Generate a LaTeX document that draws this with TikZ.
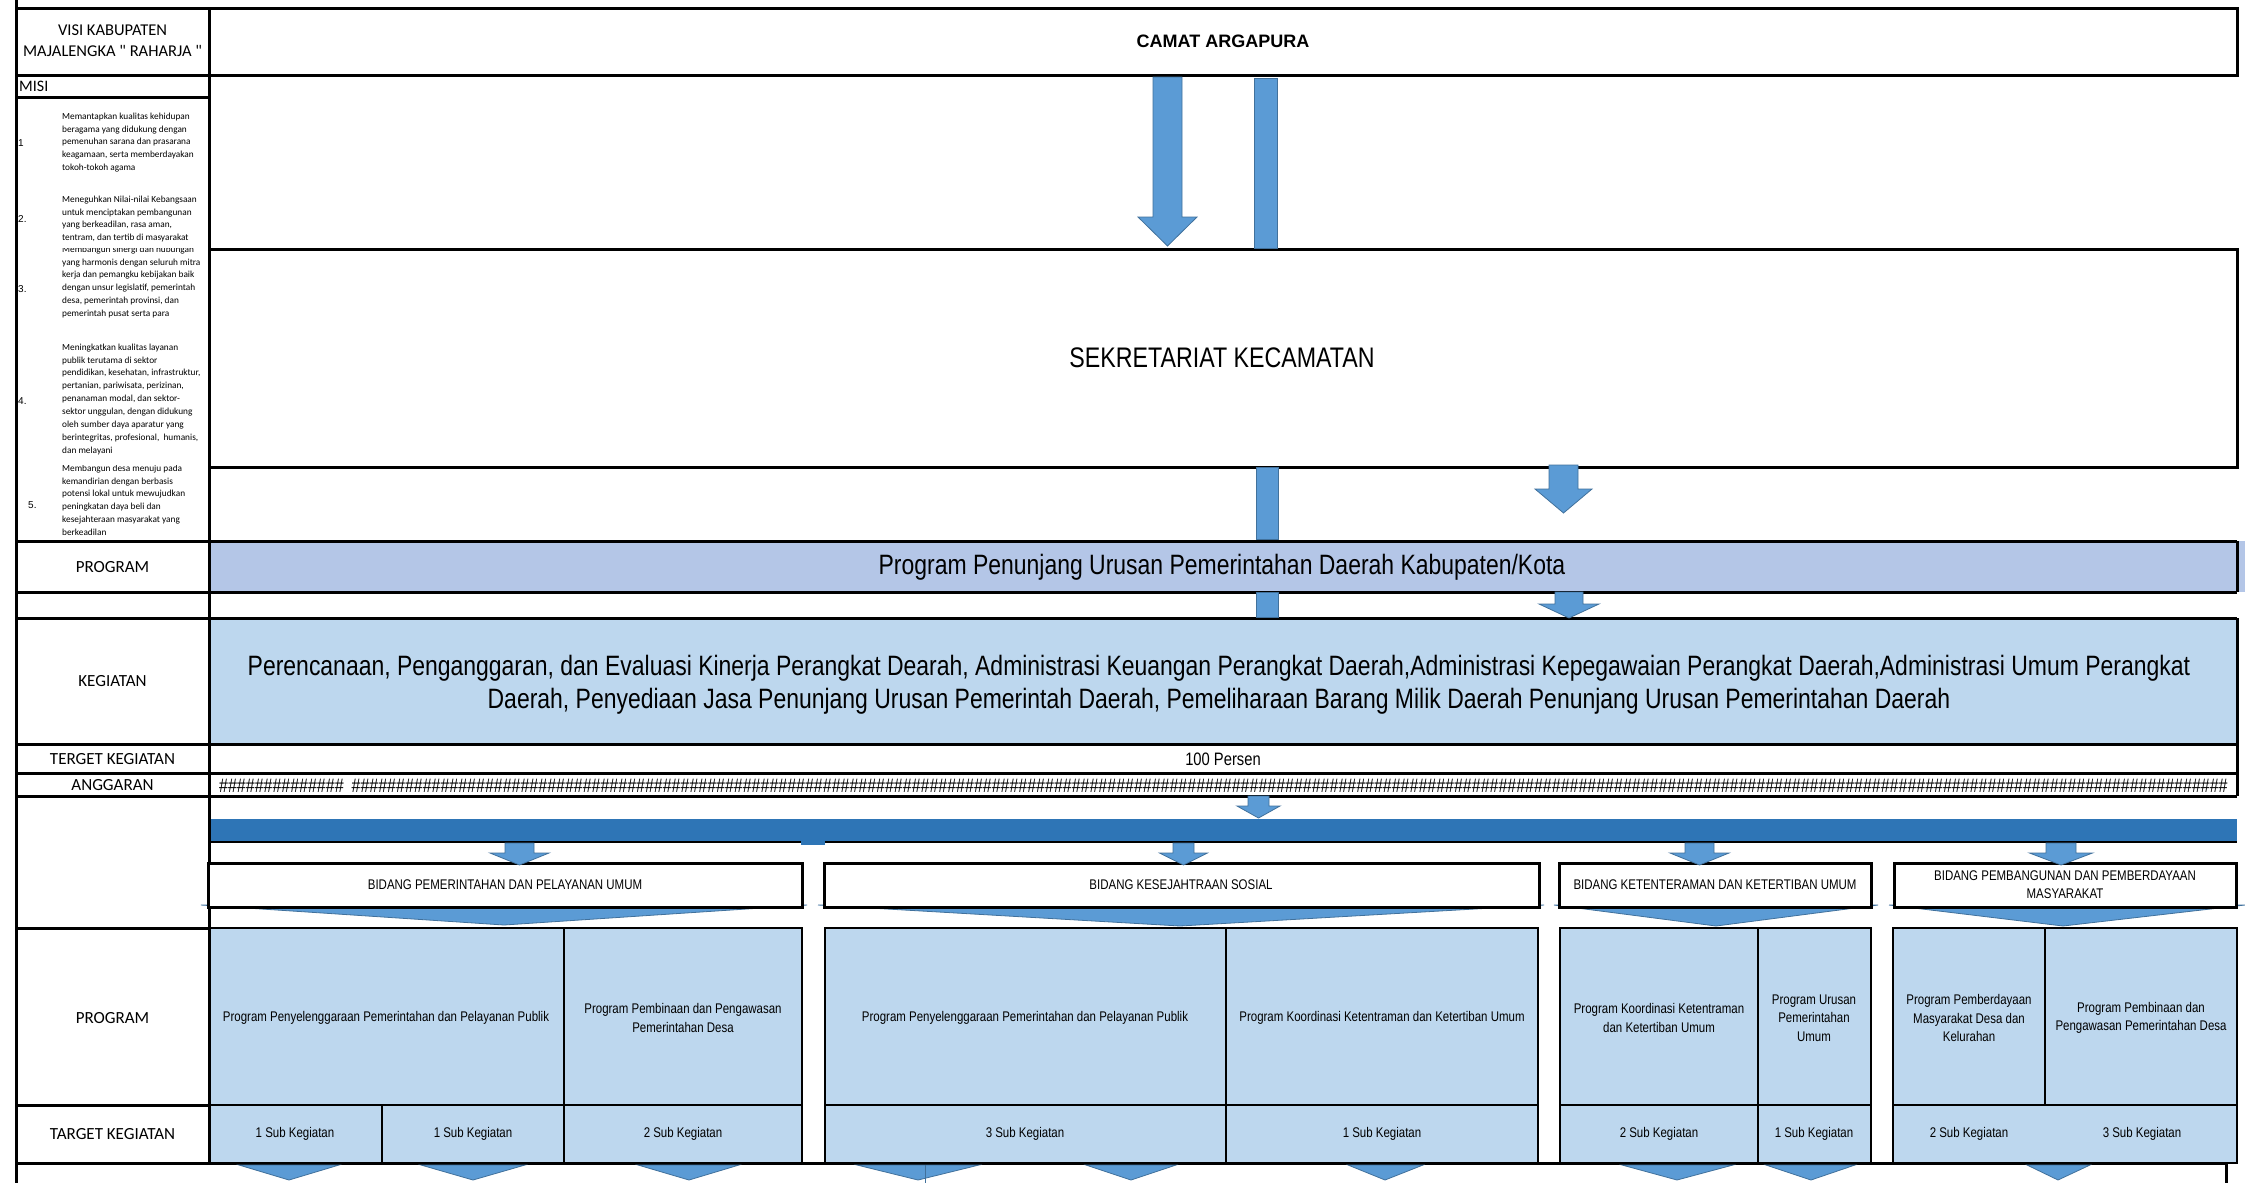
\documentclass[tikz,border=0pt]{standalone}
\usepackage{fontspec}
\setmainfont{Liberation Sans}
\newfontfamily\narrowf[FakeStretch=0.82]{Liberation Sans}
\newfontfamily\calib{Carlito}
\definecolor{arrowblue}{HTML}{5B9BD5}
\definecolor{arrowedge}{HTML}{41719C}
\definecolor{barblue}{HTML}{2E75B6}
\definecolor{progfill}{HTML}{B4C6E7}
\definecolor{cellfill}{HTML}{BDD7EE}
\newcommand\fs[2]{\fontsize{#1}{#2}\selectfont}
\newcommand\hashten{\#\#\#\#\#\#\#\#\#\#}
\newcommand\hashseventy{\hashten\hashten\hashten\hashten\hashten\hashten\hashten}
% block down arrow: cx, top, shaft half width, head half width, head start, tip
\newcommand\blockarrow[6]{%
  \path[blkarrow] ({#1-#3},#2) -- ({#1+#3},#2) -- ({#1+#3},#5) -- ({#1+#4},#5)
    -- (#1,#6) -- ({#1-#4},#5) -- ({#1-#3},#5) -- cycle;}
% flat triangle: left, right, tip x, top y, tip y
\newcommand\flattri[5]{%
  \path[blkarrow] (#1,#4) -- (#2,#4) -- (#3,#5) -- cycle;}
\begin{document}
\begin{tikzpicture}[x=1pt,y=-1pt,
  frame/.style={draw=black, line width=3pt},
  cellline/.style={draw=black, line width=2.5pt},
  blkarrow/.style={fill=arrowblue, draw=arrowedge, line width=0.8pt},
  lbl/.style={font=\calib\fs{17}{21}, align=center, inner sep=0pt},
  misitxt/.style={font=\calib\fs{9.3}{12.9}, align=left, anchor=north west, inner sep=0pt},
  numtxt/.style={font=\fs{10}{12}, anchor=base west, inner sep=0pt},
  bigtxt/.style={font=\narrowf\fs{28}{33}, align=center, inner sep=0pt},
  bidtxt/.style={font=\narrowf\fs{14}{18}, align=center, inner sep=0pt},
  prgtxt/.style={font=\narrowf\fs{14}{18.6}, align=center, inner sep=0pt},
  subtxt/.style={font=\narrowf\fs{14}{16}, inner sep=0pt}]
\useasboundingbox (0,0) rectangle (2245,1183);
\fill[white] (0,0) rectangle (2245,1183);

% ---------- fills ----------
\fill[progfill] (209,541) rectangle (2245,592);
\fill[cellfill] (209,618) rectangle (2237,744);
\fill[barblue] (208,819) rectangle (2237,841);
\foreach \a/\b in {209/802, 825/1538, 1560/1871, 1893/2237}
  \fill[cellfill] (\a,928) rectangle (\b,1163);

% ---------- upper table ----------
\draw[frame] (16,0) -- (16,1183);
\draw[frame] (16,8) rectangle (209,75);
\draw[frame] (209,8) rectangle (2237,75);
\draw[frame] (16,75) rectangle (209,97);
\draw[frame] (16,97) rectangle (209,541);
\draw[frame] (209,249) rectangle (2237,467);
\foreach \yy in {541,592,618,744,773,796}
  \draw[frame] (16,\yy) -- (2237,\yy);
\draw[frame] (209,541) -- (209,796);
\draw[frame] (2237,541) -- (2237,592);
\draw[frame] (2237,618) -- (2237,796);

% ---------- lower left column ----------
\draw[frame] (16,796) rectangle (209,928);
\draw[frame] (16,928) rectangle (209,1105);
\draw[frame] (16,1105) rectangle (209,1163);
\draw[frame] (209,1163) -- (2226,1163);
\draw[frame] (2226,1163) -- (2226,1183);

% ---------- groups ----------
\draw[cellline] (209,928) rectangle (802,1163);
\draw[cellline] (209,1105) -- (802,1105);
\draw[cellline] (564,928) -- (564,1163);
\draw[cellline] (382,1105) -- (382,1163);
\draw[cellline] (825,928) rectangle (1538,1163);
\draw[cellline] (825,1105) -- (1538,1105);
\draw[cellline] (1226,928) -- (1226,1163);
\draw[cellline] (1560,928) rectangle (1871,1163);
\draw[cellline] (1560,1105) -- (1871,1105);
\draw[cellline] (1758,928) -- (1758,1163);
\draw[cellline] (1893,928) rectangle (2237,1163);
\draw[cellline] (1893,1105) -- (2237,1105);
\draw[cellline] (2045,928) -- (2045,1105);

% ---------- blue bar bottom edge ----------
\draw[line width=2.5pt] (208,842) -- (801,842);
\draw[line width=2.5pt] (825,842) -- (2237,842);
\fill[barblue] (801,841) rectangle (825,845);

% ---------- chevrons under bidang boxes ----------
\flattri{201}{807}{504}{905}{925}
\flattri{818}{1544}{1180}{905}{926}
\flattri{1554}{1878}{1716}{905}{926}
\flattri{1889}{2245}{2063}{905}{926}

% ---------- bidang boxes ----------
\draw[frame, fill=white] (208,863) rectangle (802,907);
\draw[frame, fill=white] (824,863) rectangle (1539,907);
\draw[frame, fill=white] (1559,863) rectangle (1871,907);
\draw[frame, fill=white] (1894,863) rectangle (2236,907);

% ---------- block arrows ----------
\blockarrow{1167.5}{77}{14.5}{29.5}{217}{246}
\path[blkarrow] (1254,78) rectangle (1277,248);
\path[blkarrow] (1256,467) rectangle (1278,539);
\blockarrow{1563.5}{465}{14.5}{28.5}{489}{513}
\path[blkarrow] (1256,592) rectangle (1278,617);
\blockarrow{1569}{592}{14}{30}{604}{618}
\blockarrow{1258.5}{796}{10.5}{21.5}{806}{818}
\blockarrow{519.5}{843}{14.5}{29.5}{853}{865}
\blockarrow{1183.5}{843}{10.5}{24}{853}{865}
\blockarrow{1699.5}{843}{14.5}{29.5}{853}{865}
\blockarrow{2061}{843}{15}{31.5}{853}{865}

% ---------- bottom triangles ----------
\flattri{239}{339}{289}{1165}{1180}
\flattri{421}{525}{473}{1165}{1180}
\flattri{638}{739}{689}{1165}{1180}
\flattri{857}{979}{918}{1165}{1180}
\flattri{1086}{1176}{1131}{1165}{1180}
\flattri{1348}{1423}{1385}{1165}{1180}
\flattri{1622}{1733}{1677}{1165}{1180}
\flattri{1766}{1855}{1811}{1165}{1180}
\flattri{2027}{2090}{2058}{1165}{1180}
\draw[arrowedge, line width=0.8pt] (925,1165) -- (925,1183);

% ---------- left column labels ----------
\node[lbl, font=\calib\fs{16.5}{21}] (visi) at (112.5,41) {VISI KABUPATEN\\MAJALENGKA " RAHARJA "};
\node[lbl, anchor=west, font=\calib\fs{16}{20}] (misi) at (19,86) {MISI};
\node[lbl] (lprog) at (112.5,567) {PROGRAM};
\node[lbl] (lkeg) at (112.5,681) {KEGIATAN};
\node[lbl] (ltarget) at (112.5,759) {TERGET KEGIATAN};
\node[lbl] (lang) at (112.5,785) {ANGGARAN};
\node[lbl] (lprog2) at (112.5,1018) {PROGRAM};
\node[lbl] (ltarget2) at (112.5,1134) {TARGET KEGIATAN};

% ---------- misi items ----------
\node[numtxt] (n1) at (18,146) {1};
\node[misitxt] (m1) at (62,112.5) {Memantapkan kualitas kehidupan\\beragama yang didukung dengan\\pemenuhan sarana dan prasarana\\keagamaan, serta memberdayakan\\tokoh-tokoh agama};
\node[numtxt] (n2) at (18,222) {2.};
\node[misitxt] (m2) at (62,195.5) {Meneguhkan Nilai-nilai Kebangsaan\\untuk menciptakan pembangunan\\yang berkeadilan, rasa aman,\\tentram, dan tertib di masyarakat};
\node[numtxt] (n3) at (18,292) {3.};
\begin{scope}
\clip (58,248.5) rectangle (207,335);
\node[misitxt] (m3) at (62,245.5) {Membangun sinergi dan hubungan\\yang harmonis dengan seluruh mitra\\kerja dan pemangku kebijakan baik\\dengan unsur legislatif, pemerintah\\desa, pemerintah provinsi, dan\\pemerintah pusat serta para};
\end{scope}
\node[numtxt] (n4) at (18,404) {4.};
\node[misitxt] (m4) at (62,343.5) {Meningkatkan kualitas layanan\\publik terutama di sektor\\pendidikan, kesehatan, infrastruktur,\\pertanian, pariwisata, perizinan,\\penanaman modal, dan sektor-\\sektor unggulan, dengan didukung\\oleh sumber daya aparatur yang\\berintegritas, profesional,\ \ humanis,\\dan melayani};
\node[numtxt] (n5) at (28,508) {5.};
\begin{scope}
\clip (58,465.5) rectangle (207,539);
\node[misitxt] (m5) at (62,464.5) {Membangun desa menuju pada\\kemandirian dengan berbasis\\potensi lokal untuk mewujudkan\\peningkatan daya beli dan\\kesejahteraan masyarakat yang\\berkeadilan};
\end{scope}

% ---------- main texts ----------
\node[font=\bfseries\fs{18}{22}, inner sep=0pt] (camat) at (1223,41.5) {CAMAT ARGAPURA};
\node[bigtxt, font=\narrowf\fs{28.3}{33}] (sekre) at (1222,358) {SEKRETARIAT KECAMATAN};
\node[bigtxt] (prog) at (1222,567) {Program Penunjang Urusan Pemerintahan Daerah Kabupaten/Kota};
\node[bigtxt] (keg) at (1219,684.5) {Perencanaan, Penganggaran, dan Evaluasi Kinerja Perangkat Dearah, Administrasi Keuangan Perangkat Daerah,Administrasi Kepegawaian Perangkat Daerah,Administrasi Umum Perangkat\\Daerah, Penyediaan Jasa Penunjang Urusan Pemerintah Daerah, Pemeliharaan Barang Milik Daerah Penunjang Urusan Pemerintahan Daerah};
\node[font=\narrowf\fs{18}{20}, inner sep=0pt] (target) at (1223,759) {100 Persen};
\node[font=\narrowf\fs{19.5}{20}, anchor=base west, inner sep=0pt] (hash) at (219,792)
  {\hashten\#\#\#\#\hspace{8pt}\hashseventy\hashseventy\hashseventy\#};

% ---------- bidang texts ----------
\node[bidtxt] (b1) at (505,885) {BIDANG PEMERINTAHAN DAN PELAYANAN UMUM};
\node[bidtxt] (b2) at (1181,885) {BIDANG KESEJAHTRAAN SOSIAL};
\node[bidtxt] (b3) at (1715,885) {BIDANG KETENTERAMAN DAN KETERTIBAN UMUM};
\node[bidtxt] (b4) at (2065,885) {BIDANG PEMBANGUNAN DAN PEMBERDAYAAN\\MASYARAKAT};

% ---------- program cells ----------
\node[prgtxt] (p1a) at (386,1018) {Program Penyelenggaraan Pemerintahan dan Pelayanan Publik};
\node[prgtxt] (p1b) at (683,1018) {Program Pembinaan dan Pengawasan\\Pemerintahan Desa};
\node[prgtxt] (p2a) at (1025,1018) {Program Penyelenggaraan Pemerintahan dan Pelayanan Publik};
\node[prgtxt] (p2b) at (1382,1018) {Program Koordinasi Ketentraman dan Ketertiban Umum};
\node[prgtxt] (p3a) at (1659,1018) {Program Koordinasi Ketentraman\\dan Ketertiban Umum};
\node[prgtxt] (p3b) at (1814,1018) {Program Urusan\\Pemerintahan\\Umum};
\node[prgtxt] (p4a) at (1969,1018) {Program Pemberdayaan\\Masyarakat Desa dan\\Kelurahan};
\node[prgtxt] (p4b) at (2141,1018) {Program Pembinaan dan\\Pengawasan Pemerintahan Desa};

% ---------- target cells ----------
\node[subtxt] (s1) at (295,1134) {1 Sub Kegiatan};
\node[subtxt] (s2) at (473,1134) {1 Sub Kegiatan};
\node[subtxt] (s3) at (683,1134) {2 Sub Kegiatan};
\node[subtxt] (s4) at (1025,1134) {3 Sub Kegiatan};
\node[subtxt] (s5) at (1382,1134) {1 Sub Kegiatan};
\node[subtxt] (s6) at (1659,1134) {2 Sub Kegiatan};
\node[subtxt] (s7) at (1814,1134) {1 Sub Kegiatan};
\node[subtxt] (s8) at (1969,1134) {2 Sub Kegiatan};
\node[subtxt] (s9) at (2142,1134) {3 Sub Kegiatan};
\end{tikzpicture}
\end{document}
